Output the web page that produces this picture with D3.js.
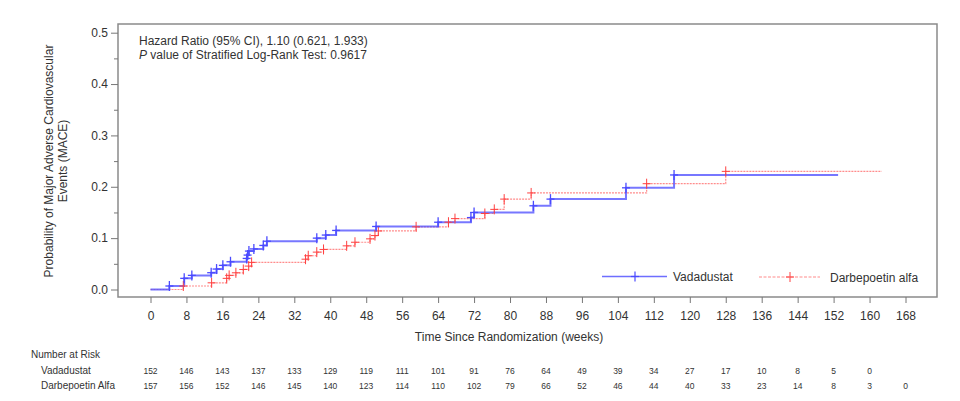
<!DOCTYPE html>
<html><head><meta charset="utf-8">
<script src="https://cdn.jsdelivr.net/npm/d3@7/dist/d3.min.js"></script>
<style>body{margin:0;background:#fff;} text{font-family:"Liberation Sans",Arial,sans-serif;fill:#333;}</style>
</head><body>
<svg id="c" width="960" height="401"></svg>
<script>
// ---- data ----
const vadStepWeeks = [0,4.2,7.5,9.2,13.5,14.7,16.1,17.8,21.4,21.6,21.9,23.0,25.1,25.9,37,39,41.3,50.2,64,71.3,72,85.2,89,105.8,116.5,153];
const vadStepProb  = [0,0.0068,0.0217,0.0275,0.0327,0.0398,0.047,0.054,0.0605,0.067,0.0748,0.079,0.0858,0.094,0.100,0.106,0.115,0.1227,0.131,0.140,0.150,0.163,0.176,0.198,0.223,0.223];
const vadCensorWeeks = [4.2,7.5,9.2,13.5,14.7,16.1,17.8,21.4,21.6,21.9,23.0,25.1,25.9,37,39,41.3,50.2,64,71.3,72,85.2,89,105.8,116.5];
const darbStepWeeks = [0,7.3,13.6,16.95,17.5,19.0,20.65,21.85,22.5,34.5,35.1,37,38.5,43.65,45.5,48.85,49.95,50.7,59.1,66.3,67.75,74.4,76.5,78.7,84.7,110.4,128,162.7];
const darbStepProb  = [0,0.0068,0.013,0.0217,0.0275,0.0325,0.039,0.0456,0.0528,0.059,0.0657,0.0728,0.078,0.085,0.092,0.0986,0.105,0.114,0.122,0.131,0.138,0.148,0.156,0.176,0.188,0.206,0.230,0.230];
const darbCensorWeeks = [7.3,13.6,16.95,17.5,19.0,20.65,21.85,22.5,34.5,35.1,37,38.5,43.65,45.5,48.85,49.95,50.7,59.1,66.3,67.75,74.4,76.5,78.7,84.7,110.4,128];
const xTicks = [0,8,16,24,32,40,48,56,64,72,80,88,96,104,112,120,128,136,144,152,160,168];
const yTicks = [0,0.1,0.2,0.3,0.4,0.5];
const yMinorTicks = [0.05,0.15,0.25,0.35,0.45];
const riskVad  = [152,146,143,137,133,129,119,111,101,91,76,64,49,39,34,27,17,10,8,5,0];
const riskDarb = [157,156,152,146,145,140,123,114,110,102,79,66,52,46,44,40,33,23,14,8,3,0];
const seriesNames = ["Vadadustat","Darbepoetin alfa"];
const riskNames = ["Vadadustat","Darbepoetin Alfa"];

// ---- layout ----
const svg = d3.select("#c");
const frame = {l:118, t:24, r:937, b:297};
const x = d3.scaleLinear().domain([0,168]).range([150.5,905.5]);
const y = d3.scaleLinear().domain([0,0.5]).range([289.5,32.7]);
const blue = "#4a4aff", red = "#ff4040";

// frame
svg.append("rect").attr("x",frame.l).attr("y",frame.t).attr("width",frame.r-frame.l).attr("height",frame.b-frame.t)
  .attr("fill","none").attr("stroke","#8a8a8a").attr("stroke-width",1.5);

// y axis
const yAx = svg.append("g").attr("transform",`translate(${frame.l},0)`)
  .call(d3.axisLeft(y).tickValues(yTicks).tickFormat(d3.format(".1f")).tickSize(7).tickPadding(3));
yAx.select(".domain").remove();
yAx.selectAll("line").attr("stroke","#777");
yAx.selectAll("text").attr("font-size",12).style("font-family","Liberation Sans, Arial").attr("fill","#333");
const yMin = svg.append("g").attr("transform",`translate(${frame.l},0)`)
  .call(d3.axisLeft(y).tickValues(yMinorTicks).tickFormat("").tickSize(4));
yMin.select(".domain").remove();
yMin.selectAll("line").attr("stroke","#777");

// x axis
const xAx = svg.append("g").attr("transform",`translate(0,${frame.b})`)
  .call(d3.axisBottom(x).tickValues(xTicks).tickSize(6).tickPadding(8));
xAx.select(".domain").remove();
xAx.selectAll("line").attr("stroke","#777");
xAx.selectAll("text").attr("font-size",12).style("font-family","Liberation Sans, Arial").attr("fill","#333");

// axis titles
svg.append("text").attr("x",509).attr("y",341).attr("text-anchor","middle").attr("font-size",12).text("Time Since Randomization (weeks)");
const yt = svg.append("text").attr("transform","translate(53,161) rotate(-90)").attr("text-anchor","middle").attr("font-size",12);
yt.append("tspan").attr("x",0).attr("dy",0).text("Probability of Major Adverse Cardiovascular");
yt.append("tspan").attr("x",0).attr("dy",14).text("Events (MACE)");

// annotation
svg.append("text").attr("x",139).attr("y",45).attr("font-size",12).text("Hazard Ratio (95% CI), 1.10 (0.621, 1.933)");
const pv = svg.append("text").attr("x",139).attr("y",59).attr("font-size",12);
pv.append("tspan").attr("font-style","italic").text("P");
pv.append("tspan").text(" value of Stratified Log-Rank Test: 0.9617");

// curves
function stepLine(ws, ps){
  return d3.line().x(d=>x(d[0])).y(d=>y(d[1])).curve(d3.curveStepAfter)(ws.map((w,i)=>[w,ps[i]]));
}
function levelAt(ws, ps, t){ let v=0; for(let i=0;i<ws.length;i++){ if(ws[i]<=t) v=ps[i]; } return v; }

svg.append("path").attr("d",stepLine(darbStepWeeks,darbStepProb)).attr("fill","none")
  .attr("stroke",red).attr("stroke-width",1.2).attr("stroke-dasharray","2,1").attr("opacity",0.6);
svg.append("path").attr("d",stepLine(vadStepWeeks,vadStepProb)).attr("fill","none")
  .attr("stroke",blue).attr("stroke-width",2).attr("opacity",0.75);

function plus(g, cx, cy, col, sw){
  g.append("line").attr("x1",cx-4).attr("x2",cx+4).attr("y1",cy).attr("y2",cy).attr("stroke",col).attr("stroke-width",sw);
  g.append("line").attr("x1",cx).attr("x2",cx).attr("y1",cy-5).attr("y2",cy+5).attr("stroke",col).attr("stroke-width",sw);
}
const gm = svg.append("g");
darbCensorWeeks.forEach(w=>plus(gm, x(w), y(levelAt(darbStepWeeks,darbStepProb,w)), red, 1));
vadCensorWeeks.forEach(w=>plus(gm, x(w), y(levelAt(vadStepWeeks,vadStepProb,w)), blue, 1.3));

// legend
const lg = svg.append("g");
lg.append("line").attr("x1",602).attr("x2",667).attr("y1",276.5).attr("y2",276.5).attr("stroke",blue).attr("stroke-width",1.5).attr("opacity",0.8);
plus(lg,635,276.5,blue,1.2);
lg.append("text").attr("x",673).attr("y",281).attr("font-size",12).text(seriesNames[0]);
lg.append("line").attr("x1",759).attr("x2",820).attr("y1",277).attr("y2",277).attr("stroke",red).attr("stroke-width",1.2).attr("stroke-dasharray","3,1.5").attr("opacity",0.6);
plus(lg,790,277,red,1);
lg.append("text").attr("x",830).attr("y",281.5).attr("font-size",12).text(seriesNames[1]);

// number at risk
svg.append("text").attr("x",31).attr("y",358).attr("font-size",10).text("Number at Risk");
svg.append("text").attr("x",41).attr("y",374).attr("font-size",10).text(riskNames[0]);
svg.append("text").attr("x",41).attr("y",389).attr("font-size",10).text(riskNames[1]);
svg.append("g").selectAll("text").data(riskVad).join("text")
  .attr("x",(d,i)=>x(xTicks[i])).attr("y",374).attr("text-anchor","middle").attr("font-size",8.5).text(d=>d);
svg.append("g").selectAll("text").data(riskDarb).join("text")
  .attr("x",(d,i)=>x(xTicks[i])).attr("y",389).attr("text-anchor","middle").attr("font-size",8.5).text(d=>d);
</script>
</body></html>
